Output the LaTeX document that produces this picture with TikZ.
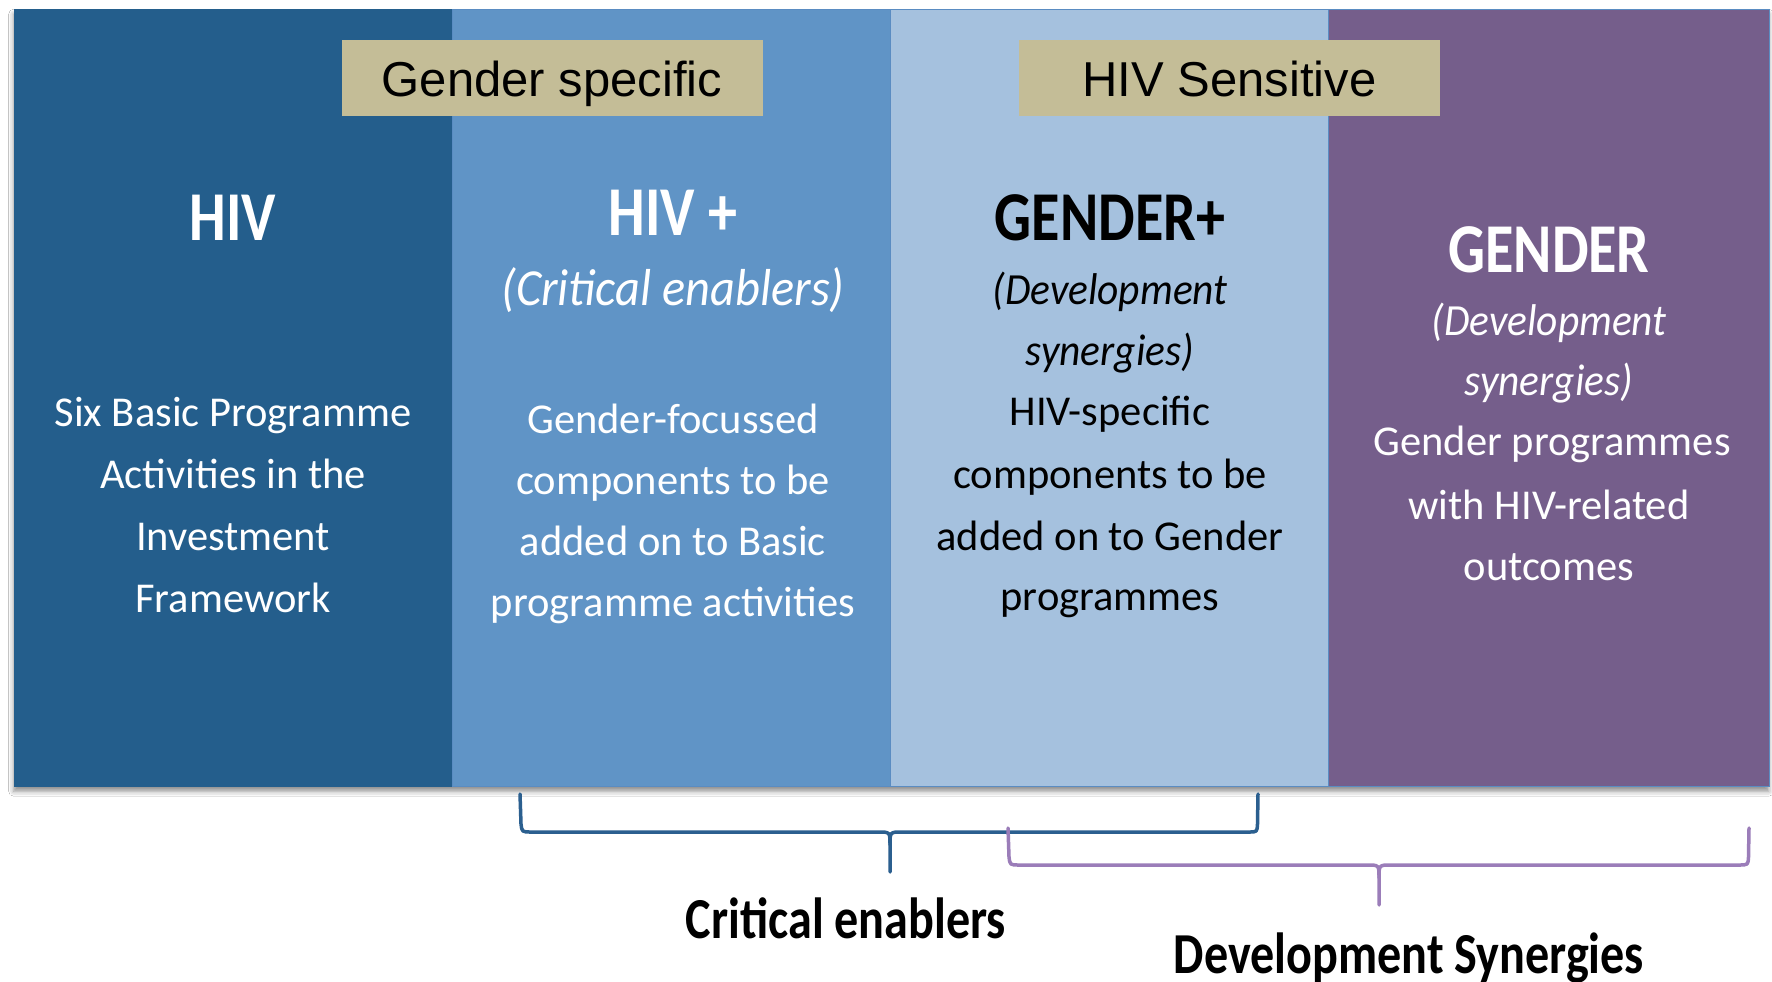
\documentclass[tikz,border=0pt]{standalone}
\usepackage{fontspec}
\setmainfont{Carlito}
\newfontfamily\headfont[FakeStretch=0.83]{Carlito}
\newfontfamily\subfont[FakeStretch=0.93]{Carlito}
\newfontfamily\arialfont{Liberation Sans}
\usetikzlibrary{shadows.blur}
\definecolor{cdark}{HTML}{245E8C}
\definecolor{cmid}{HTML}{6094C6}
\definecolor{clight}{HTML}{A5C1DE}
\definecolor{cpurple}{HTML}{755E8B}
\definecolor{ctan}{HTML}{C4BD97}
\definecolor{cedge}{HTML}{5A8CC2}
\definecolor{bluebr}{HTML}{2B5F8F}
\definecolor{purplebr}{HTML}{9B7DB9}
\begin{document}
\begin{tikzpicture}[x=1pt,y=-1pt,
  panelbox/.style={draw=cedge, line width=1.2pt, inner sep=0pt, anchor=north west, minimum height=777pt},
  tagbox/.style={fill=ctan, inner sep=0pt, minimum width=421pt, minimum height=76pt, text height=37pt, text depth=0pt, font=\arialfont\fontsize{49}{49}\selectfont},
  headtext/.style={anchor=base, inner sep=0pt, font=\headfont\bfseries\fontsize{70}{70}\selectfont},
  subtext/.style={anchor=base, inner sep=0pt, font=\subfont\itshape\fontsize{44.5}{44.5}\selectfont},
  bodytext/.style={anchor=base, inner sep=0pt, font=\fontsize{42.5}{42.5}\selectfont},
  foottext/.style={anchor=base, inner sep=0pt, font=\headfont\bfseries\fontsize{58}{58}\selectfont},
  bracket/.style={line width=3.5pt, line cap=round, line join=round}
]
\useasboundingbox (0,0) rectangle (1772,982);
\fill[white] (0,0) rectangle (1772,982);
% shadow carrier
\node[anchor=north west, inner sep=0pt, minimum width=1755pt, minimum height=777pt, fill=white,
  blur shadow={shadow xshift=0pt, shadow yshift=-5pt, shadow blur radius=5pt, shadow opacity=45}] (all) at (13.5,9) {};
% panels
\node[panelbox, draw=cdark, fill=cdark, minimum width=438.5pt] (p1) at (13.5,9) {};
\node[panelbox, fill=cmid, minimum width=438pt] (p2) at (452,9) {};
\node[panelbox, fill=clight, minimum width=438pt] (p3) at (890,9) {};
\node[panelbox, fill=cpurple, minimum width=440.5pt] (p4) at (1328,9) {};
% tags
\node[tagbox] (tag1) at (552,78) {Gender specific};
\node[tagbox] (tag2) at (1229.5,78) {HIV Sensitive};
% column 1
\node[headtext, white] (h1) at (233,240) {HIV};
\node[bodytext, white] (b11) at (233,426) {Six Basic Programme};
\node[bodytext, white] (b12) at (233,488) {Activities in the};
\node[bodytext, white] (b13) at (233,550) {Investment};
\node[bodytext, white] (b14) at (233,612) {Framework};
% column 2
\node[headtext, white] (h2) at (673,235) {HIV +};
\node[subtext, white, font=\subfont\itshape\fontsize{52}{52}\selectfont] (s21) at (673,305) {(Critical enablers)};
\node[bodytext, white] (b21) at (673,433) {Gender-focussed};
\node[bodytext, white] (b22) at (673,494) {components to be};
\node[bodytext, white] (b23) at (673,555) {added on to Basic};
\node[bodytext, white] (b24) at (673,616) {programme activities};
% column 3
\node[headtext, black] (h3) at (1110,240) {GENDER+};
\node[subtext, black] (s31) at (1110,304) {(Development};
\node[subtext, black] (s32) at (1110,365) {synergies)};
\node[bodytext, black] (b31) at (1110,425) {HIV-specific};
\node[bodytext, black] (b32) at (1110,488) {components to be};
\node[bodytext, black] (b33) at (1110,550) {added on to Gender};
\node[bodytext, black] (b34) at (1110,610) {programmes};
% column 4
\node[headtext, white] (h4) at (1549,272) {GENDER};
\node[subtext, white] (s41) at (1549,335) {(Development};
\node[subtext, white] (s42) at (1549,395) {synergies)};
\node[bodytext, white] (b41) at (1552,455) {Gender programmes};
\node[bodytext, white] (b42) at (1549,519) {with HIV-related};
\node[bodytext, white] (b43) at (1549,580) {outcomes};
% brackets
\coordinate (ceL) at (520,794);
\coordinate (ceT) at (890,872);
\coordinate (ceR) at (1258,794);
\draw[bracket, bluebr] (ceL) -- (521,824) .. controls (522,832) .. (531,832) -- (878,832) .. controls (890,832) .. (890,845) -- (ceT);
\draw[bracket, bluebr] (890,845) .. controls (890,832) .. (902,832) -- (1249,832) .. controls (1257,832) .. (1257.5,824) -- (ceR);
\coordinate (dsL) at (1008,828);
\coordinate (dsT) at (1379,905);
\coordinate (dsR) at (1749,828);
\draw[bracket, purplebr] (dsL) -- (1009,857) .. controls (1010,865) .. (1019,865) -- (1367,865) .. controls (1379,865) .. (1379,878) -- (dsT);
\draw[bracket, purplebr] (1379,878) .. controls (1379,865) .. (1391,865) -- (1739,865) .. controls (1748,865) .. (1748.5,857) -- (dsR);
% labels
\node[foottext] (lce) at (846,938) {Critical enablers};
\node[foottext] (lds) at (1409,973) {Development Synergies};
\end{tikzpicture}
\end{document}
